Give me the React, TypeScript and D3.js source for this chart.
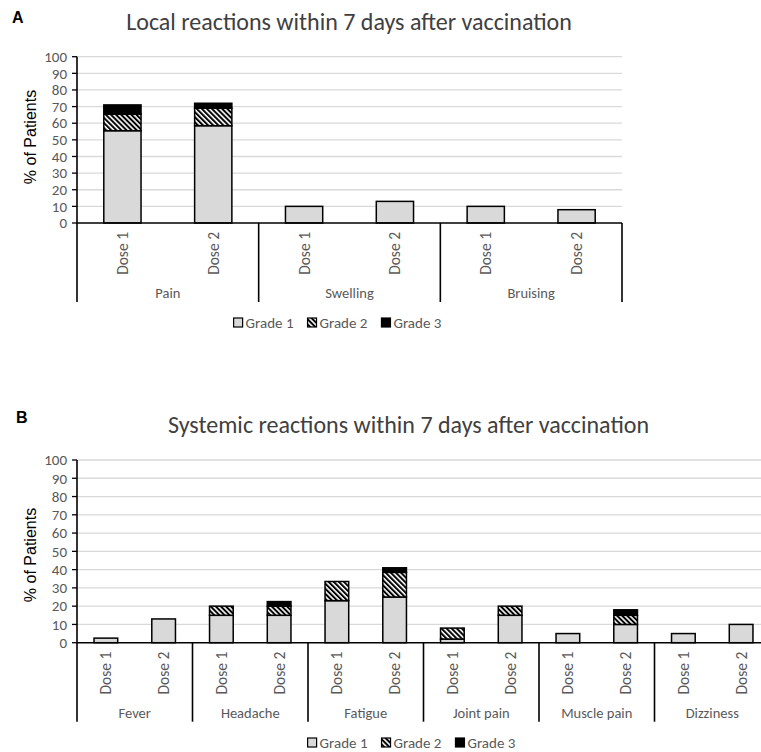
import React, { useEffect, useRef } from 'react';
import * as d3 from 'd3';

// values (% of patients), ordered category x dose
const doses = ['Dose 1', 'Dose 2'];
const grades = ['Grade 1', 'Grade 2', 'Grade 3'];
const yTicks = [0, 10, 20, 30, 40, 50, 60, 70, 80, 90, 100];

const localCategories = ['Pain', 'Swelling', 'Bruising'];
const localGrade1 = [55.5, 58.5, 10, 13, 10, 8];
const localGrade2 = [10, 10.5, 0, 0, 0, 0];
const localGrade3 = [5.5, 3, 0, 0, 0, 0];

const systemicCategories = ['Fever', 'Headache', 'Fatigue', 'Joint pain', 'Muscle pain', 'Dizziness'];
const systemicGrade1 = [2.5, 13, 15, 15, 23, 25, 2, 15, 5, 10, 5, 10];
const systemicGrade2 = [0, 0, 5, 5, 10.5, 13.5, 6, 5, 0, 5, 0, 0];
const systemicGrade3 = [0, 0, 0, 2.5, 0, 2.5, 0, 0, 0, 3, 0, 0];

const FONT = 'Carlito, Calibri, Lato, sans-serif';
const LABEL = '#595959';
const fills = ['#d9d9d9', 'url(#hatch)', '#000000'];

const drawPanel = (g, cfg) => {
    const { categories, g1, g2, g3, left, right, top, bottom } = cfg;

    const rows = categories.flatMap((c, i) => doses.map((d, j) => ({
        key: c + '|' + d, category: c, dose: d,
        g1: g1[i * 2 + j], g2: g2[i * 2 + j], g3: g3[i * 2 + j]
    })));

    const x = d3.scaleBand()
        .domain(rows.map(r => r.key))
        .range([left, right])
        .paddingInner(0.59)
        .paddingOuter(0.295);
    const gx = d3.scaleBand().domain(categories).range([left, right]);
    const y = d3.scaleLinear().domain([0, 100]).range([bottom, top]);
    const series = d3.stack().keys(['g1', 'g2', 'g3'])(rows);
    const drop = 79;

    // gridlines
    g.selectAll('.grid')
        .data(yTicks.filter(t => t > 0))
        .join('line')
        .attr('x1', left).attr('x2', right)
        .attr('y1', d => y(d)).attr('y2', d => y(d))
        .attr('stroke', '#d9d9d9').attr('stroke-width', 1.3);

    // y ticks + labels
    g.selectAll('.ytick')
        .data(yTicks)
        .join('line')
        .attr('x1', left - 5).attr('x2', left)
        .attr('y1', d => y(d)).attr('y2', d => y(d))
        .attr('stroke', '#000').attr('stroke-width', 1.3);
    g.selectAll('.ylab')
        .data(yTicks)
        .join('text')
        .attr('x', left - 10)
        .attr('y', d => y(d))
        .attr('dy', '0.35em')
        .attr('text-anchor', 'end')
        .attr('font-family', FONT)
        .attr('font-size', 15)
        .attr('fill', LABEL)
        .text(d => d);

    // bars
    series.forEach((s, si) => {
        g.append('g')
            .selectAll('rect')
            .data(s.filter(d => d[1] - d[0] > 0))
            .join('rect')
            .attr('x', d => x(d.data.key))
            .attr('width', x.bandwidth())
            .attr('y', d => y(d[1]))
            .attr('height', d => y(d[0]) - y(d[1]))
            .attr('fill', fills[si])
            .attr('stroke', '#000')
            .attr('stroke-width', 1.5);
    });

    // axes
    g.append('line')
        .attr('x1', left).attr('x2', right)
        .attr('y1', bottom).attr('y2', bottom)
        .attr('stroke', '#000').attr('stroke-width', 1.6);
    g.append('line')
        .attr('x1', left).attr('x2', left)
        .attr('y1', top).attr('y2', bottom + drop)
        .attr('stroke', '#000').attr('stroke-width', 1.6);
    g.selectAll('.divider')
        .data(categories.slice(1).map(c => gx(c)).concat([right]))
        .join('line')
        .attr('x1', d => d).attr('x2', d => d)
        .attr('y1', bottom).attr('y2', bottom + drop)
        .attr('stroke', '#000').attr('stroke-width', 1.6);

    // dose labels
    g.selectAll('.dose')
        .data(rows)
        .join('text')
        .attr('transform', d => `translate(${x(d.key) + x.bandwidth() / 2},${bottom + 9}) rotate(-90)`)
        .attr('dy', '0.35em')
        .attr('text-anchor', 'end')
        .attr('font-family', FONT)
        .attr('font-size', 15.5)
        .attr('fill', LABEL)
        .text(d => d.dose);

    // category labels
    g.selectAll('.cat')
        .data(categories)
        .join('text')
        .attr('x', d => gx(d) + gx.bandwidth() / 2)
        .attr('y', bottom + 70)
        .attr('dy', '0.35em')
        .attr('text-anchor', 'middle')
        .attr('font-family', FONT)
        .attr('font-size', 14.5)
        .attr('fill', LABEL)
        .text(d => d);

    // y title
    g.append('text')
        .attr('transform', `translate(${cfg.yTitleX},${cfg.yTitleY}) rotate(-90)`)
        .attr('text-anchor', 'middle')
        .attr('dy', '0.35em')
        .attr('font-family', 'Liberation Sans, Arial, sans-serif')
        .attr('font-size', 16)
        .attr('fill', '#000')
        .text('% of Patients');

    // title
    g.append('text')
        .attr('x', cfg.titleX)
        .attr('y', cfg.titleY)
        .attr('text-anchor', 'middle')
        .attr('font-family', FONT)
        .attr('font-size', 24)
        .attr('fill', '#404040')
        .text(cfg.title);

    // panel letter
    g.append('text')
        .attr('x', cfg.letterX)
        .attr('y', cfg.letterY)
        .attr('font-family', 'Liberation Sans, Arial, sans-serif')
        .attr('font-weight', 'bold')
        .attr('font-size', 16)
        .text(cfg.letter);

    // legend, laid out left to right then centred
    const leg = g.append('g');
    let cx = 0;
    grades.forEach((gr, i) => {
        leg.append('rect')
            .attr('x', cx).attr('y', -5)
            .attr('width', 9).attr('height', 9)
            .attr('fill', fills[i])
            .attr('stroke', '#000').attr('stroke-width', 1.2);
        const t = leg.append('text')
            .attr('x', cx + 12)
            .attr('y', 0)
            .attr('dy', '0.35em')
            .attr('font-family', FONT)
            .attr('font-size', 15)
            .attr('fill', LABEL)
            .text(gr);
        cx += 12 + t.node().getComputedTextLength() + 14;
    });
    const legW = cx - 14;
    leg.attr('transform', `translate(${cfg.legendX - legW / 2},${cfg.legendY})`);
};

const App = () => {
    const svgRef = useRef();

    useEffect(() => {
        const svg = d3.select(svgRef.current);
        svg.selectAll('g.panel').remove();

        drawPanel(svg.append('g').attr('class', 'panel'), {
            categories: localCategories,
            g1: localGrade1, g2: localGrade2, g3: localGrade3,
            left: 77, right: 622, top: 56.7, bottom: 223,
            title: 'Local reactions within 7 days after vaccination',
            titleX: 349, titleY: 30,
            letter: 'A', letterX: 12, letterY: 23,
            yTitleX: 30, yTitleY: 137,
            legendX: 337.5, legendY: 323
        });

        drawPanel(svg.append('g').attr('class', 'panel'), {
            categories: systemicCategories,
            g1: systemicGrade1, g2: systemicGrade2, g3: systemicGrade3,
            left: 77, right: 770, top: 460, bottom: 642.7,
            title: 'Systemic reactions within 7 days after vaccination',
            titleX: 408.5, titleY: 433,
            letter: 'B', letterX: 16, letterY: 423,
            yTitleX: 30, yTitleY: 555,
            legendX: 411.5, legendY: 743
        });
    }, []);

    return (
        <svg ref={svgRef} width={761} height={752}
            style={{ position: 'absolute', left: 0, top: 0, background: '#fff' }}>
            <defs>
                <pattern id="hatch" patternUnits="userSpaceOnUse" width={3.6} height={3.6}
                    patternTransform="rotate(-45)">
                    <rect width={3.6} height={3.6} fill="#fff" />
                    <line x1={1} y1={0} x2={1} y2={3.6} stroke="#000" strokeWidth={2} />
                </pattern>
            </defs>
        </svg>
    );
};

export default App;
